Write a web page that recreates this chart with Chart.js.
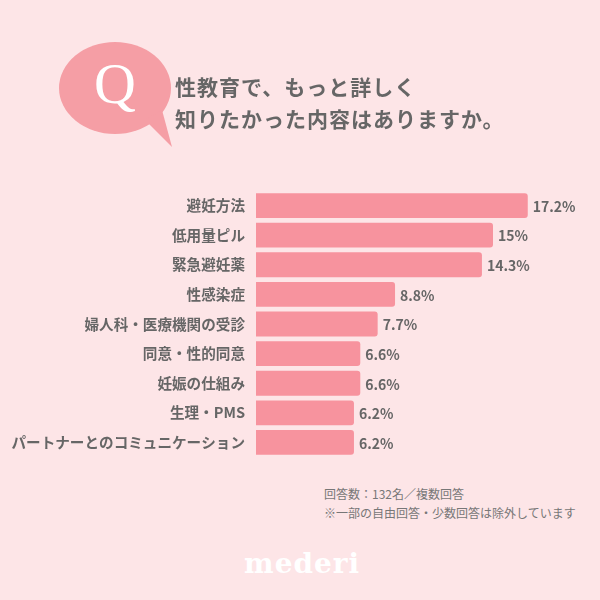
<!DOCTYPE html>
<html lang="ja">
<head>
<meta charset="utf-8">
<script src="https://cdn.jsdelivr.net/npm/chart.js@4.4.1/dist/chart.umd.min.js"></script>
<style>
    html, body { margin: 0; padding: 0; }
    body {
        width: 600px;
        height: 600px;
        position: relative;
        overflow: hidden;
        background: #fde5e7;
        font-family: "Noto Sans CJK JP", "Noto Sans", sans-serif;
    }
    #bubble { position: absolute; left: 0; top: 0; }
    .q {
        position: absolute;
        left: 85px;
        top: 52px;
        width: 60px;
        text-align: center;
        font-family: "Liberation Serif", "DejaVu Serif", serif;
        font-size: 58px;
        color: #fff;
        line-height: 64px;
    }
    .title {
        position: absolute;
        left: 175px;
        top: 70px;
        font-size: 21px;
        font-weight: bold;
        color: #666;
        line-height: 32px;
        letter-spacing: 1px;
    }
    .chart-box {
        position: absolute;
        left: 0;
        top: 179px;
        width: 600px;
        height: 290px;
    }
    .note {
        position: absolute;
        left: 324px;
        top: 484px;
        font-size: 12px;
        color: #777;
        line-height: 19px;
    }
    .logo {
        position: absolute;
        left: 244px;
        top: 547px;
        font-family: "DejaVu Serif", "Liberation Serif", serif;
        font-weight: bold;
        font-size: 28px;
        color: #fff;
        letter-spacing: 1px;
    }
</style>
</head>
<body>
<canvas id="bubble" width="600" height="180"></canvas>
<div class="q">Q</div>
<div class="title">性教育で、もっと詳しく<br>知りたかった内容はありますか。</div>
<div class="chart-box"><canvas id="barChart"></canvas></div>
<div class="note">回答数：132名／複数回答<br>※一部の自由回答・少数回答は除外しています</div>
<div class="logo">mederi</div>

<script>
// Chart data
const categories = [
    '避妊方法', '低用量ピル', '緊急避妊薬', '性感染症', '婦人科・医療機関の受診',
    '同意・性的同意', '妊娠の仕組み', '生理・PMS', 'パートナーとのコミュニケーション'
];
const percentValues = [17.2, 15, 14.3, 8.8, 7.7, 6.6, 6.6, 6.2, 6.2];

// Speech bubble behind the Q
const bctx = document.getElementById('bubble').getContext('2d');
bctx.fillStyle = '#f59ea5';
bctx.beginPath();
bctx.ellipse(115, 88, 56, 46, 0, 0, Math.PI * 2);
bctx.fill();
bctx.beginPath();
bctx.moveTo(145, 120);
bctx.lineTo(172, 147);
bctx.lineTo(162, 110);
bctx.closePath();
bctx.fill();

// Value labels at the end of each bar
const valueLabels = {
    id: 'valueLabels',
    afterDatasetsDraw(chart) {
        const ctx = chart.ctx;
        const meta = chart.getDatasetMeta(0);
        ctx.save();
        ctx.font = 'bold 14px "Noto Sans CJK JP", "Noto Sans", sans-serif';
        ctx.fillStyle = '#666';
        ctx.textAlign = 'left';
        ctx.textBaseline = 'middle';
        meta.data.forEach((bar, i) => {
            ctx.fillText(percentValues[i] + '%', bar.x + 5, bar.y + 1);
        });
        ctx.restore();
    }
};

const ctx = document.getElementById('barChart').getContext('2d');
window.barChart = new Chart(ctx, {
    type: 'bar',
    data: {
        labels: categories,
        datasets: [{
            data: percentValues,
            backgroundColor: '#f7939e',
            borderRadius: { topRight: 3, bottomRight: 3 },
            borderSkipped: 'start',
            barPercentage: 0.84,
            categoryPercentage: 1
        }]
    },
    options: {
        indexAxis: 'y',
        responsive: true,
        maintainAspectRatio: false,
        animation: false,
        layout: {
            padding: { left: 0, right: 28, top: 0, bottom: 0 }
        },
        plugins: {
            legend: { display: false },
            tooltip: { enabled: false }
        },
        scales: {
            x: {
                display: false,
                min: 0,
                max: 20
            },
            y: {
                grid: { display: false },
                border: { display: false },
                afterFit: scale => { scale.width = 256; },
                ticks: {
                    padding: 3,
                    color: '#666',
                    font: {
                        family: '"Noto Sans CJK JP", "Noto Sans", sans-serif',
                        size: 14.6,
                        weight: 'bold'
                    }
                }
            }
        }
    },
    plugins: [valueLabels]
});
</script>
</body>
</html>
